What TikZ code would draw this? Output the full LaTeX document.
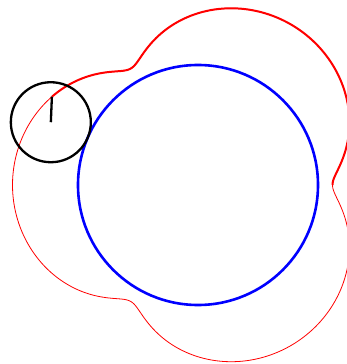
\documentclass[tikz,border=0pt]{standalone}
\usetikzlibrary{calc}
\tikzset{
  fixed/.style={draw=blue,line width=2.6pt},
  roller/.style={draw=black,line width=2.3pt},
  arm/.style={draw=black,line width=2.3pt},
  trace/.style={draw=red,line width=0.8pt},
  tracenow/.style={draw=red,line width=2pt},
}
\def\bigR{120}
\def\smallr{40}
\def\penlen{25.5}
\def\rollangle{156.9}
\begin{document}
\begin{tikzpicture}[x=1pt,y=1pt]
  \useasboundingbox (-198,-179) rectangle (149,185);
  \clip (-198,-179) rectangle (149,185);
  % fixed circle
  \coordinate (hub) at (0,0);
  \draw[fixed] (hub) circle (\bigR);
  % whole curve, thin
  \draw[trace,smooth,samples=300,domain=0:360]
    plot ({160*cos(\x)-\penlen*cos(4*\x)},{160*sin(\x)-\penlen*sin(4*\x)});
  % traced so far
  \draw[tracenow,smooth,samples=150,domain=0:\rollangle]
    plot ({160*cos(\x)-\penlen*cos(4*\x)},{160*sin(\x)-\penlen*sin(4*\x)});
  % rolling circle and pen
  \coordinate (wheel) at (\rollangle:160);
  \coordinate (pen) at ($(wheel)+(4*\rollangle+180:\penlen)$);
  \draw[roller] (wheel) circle (\smallr);
  \draw[arm] (wheel) -- (pen);
\end{tikzpicture}
\end{document}
